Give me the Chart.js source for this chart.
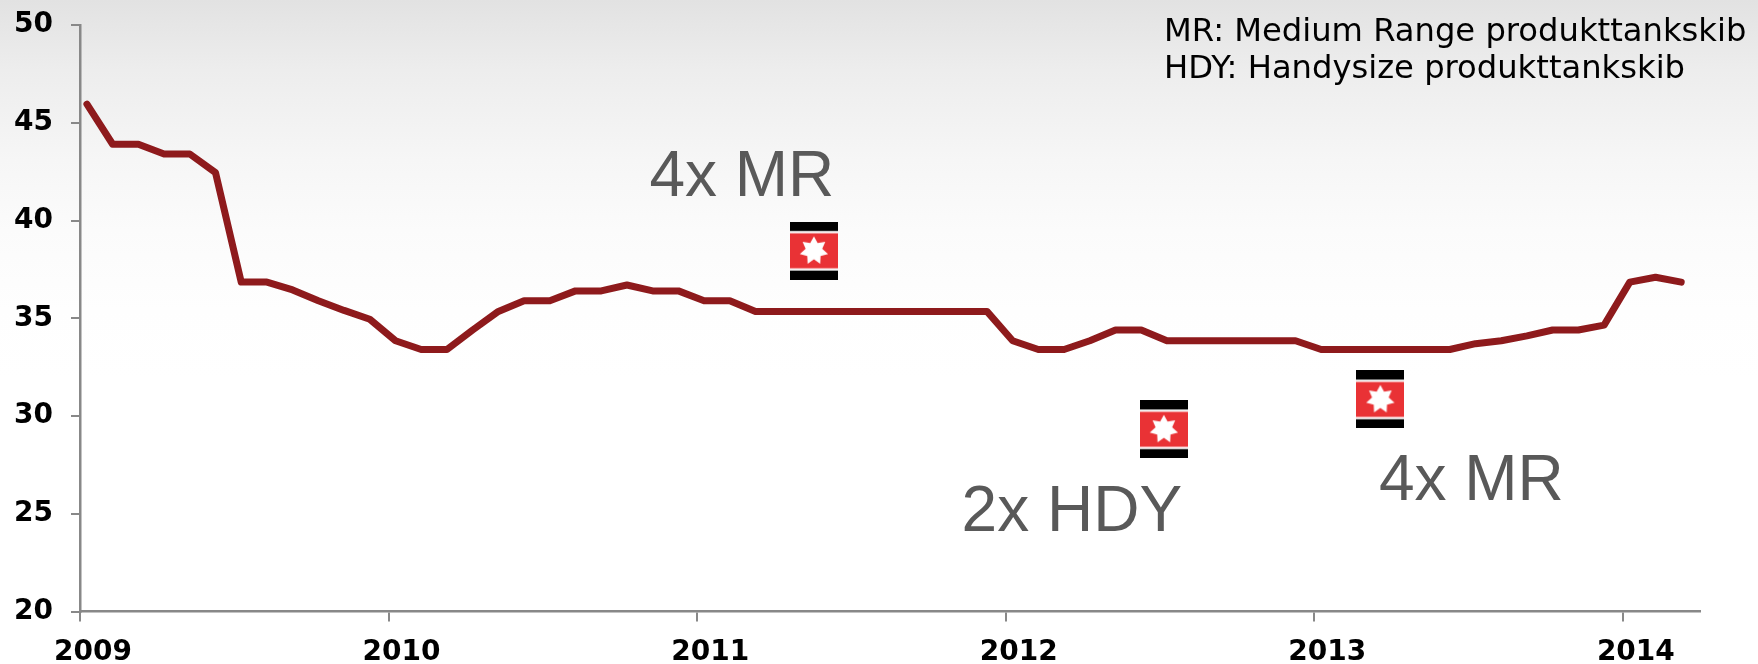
<!DOCTYPE html>
<html><head><meta charset="utf-8">
<script src="https://cdn.jsdelivr.net/npm/chart.js@4"></script>
<style>
html,body{margin:0;padding:0;width:1758px;height:664px;overflow:hidden;
background:linear-gradient(to bottom,#e2e2e2 0,#ededed 70px,#f6f6f6 160px,#fbfbfb 230px,#fefefe 310px,#ffffff 380px);}
canvas{display:block}
</style></head><body>
<canvas id="c" width="1758" height="664"></canvas>
<script>
const yearLabels = ['2009','2010','2011','2012','2013','2014'];
const monthsPerYear = 12;
const firstMonthOffset = 0.27;
const prices = [
  45.95,43.9,43.9,43.4,43.4,42.45,36.85,36.85,36.45,35.9,35.4,34.95,
  33.85,33.4,33.4,34.4,35.35,35.9,35.9,36.4,36.4,36.7,36.4,36.4,
  35.9,35.9,35.35,35.35,35.35,35.35,35.35,35.35,35.35,35.35,35.35,35.35,
  33.85,33.4,33.4,33.85,34.4,34.4,33.85,33.85,33.85,33.85,33.85,33.85,
  33.4,33.4,33.4,33.4,33.4,33.4,33.7,33.85,34.1,34.4,34.4,34.65,
  36.85,37.1,36.85
];
const markerMonths = [28.54,42.15,50.57];
const markerValues = [38.45,29.32,30.85];
const markerLabels = ['4x MR','2x HDY','4x MR'];
const noteLines = ['MR: Medium Range produkttankskib','HDY: Handysize produkttankskib'];

function makeMarker(){
  const s=document.createElement('canvas');s.width=48;s.height=58;
  const g=s.getContext('2d');
  g.fillStyle='#000';g.fillRect(0,0,48,9);g.fillRect(0,49,48,9);
  g.fillStyle='#c8c8c8';g.fillRect(0,9,48,1);g.fillRect(0,48,48,1);
  g.fillStyle='#e93235';g.fillRect(0,11.5,48,35);
  g.fillStyle='#fff';g.beginPath();
  const n=7,cx=24,cy=29,R=14.5,r=8.5;
  for(let i=0;i<n*2;i++){const a=-Math.PI/2+i*Math.PI/n,q=i%2?r:R;
    g[i?'lineTo':'moveTo'](cx+q*Math.cos(a),cy+q*Math.sin(a));}
  g.closePath();g.fill();
  return s;
}
const marker=makeMarker();

const textPlugin={id:'texts',afterDatasetsDraw(ch){
  const {ctx,scales:{x,y}}=ch;
  ctx.save();
  ctx.fillStyle='#595959';ctx.font='64px "Liberation Sans"';ctx.textAlign='center';ctx.textBaseline='middle';
  const off=[[-72,-72],[-92,84],[91,83]];
  markerLabels.forEach((t,i)=>{
    ctx.fillText(t,x.getPixelForValue(markerMonths[i])+off[i][0],y.getPixelForValue(markerValues[i])+off[i][1]);
  });
  ctx.fillStyle='#000';ctx.font='32.2px "DejaVu Sans"';ctx.textAlign='left';ctx.textBaseline='alphabetic';
  noteLines.forEach((t,i)=>ctx.fillText(t,1164,41+i*37));
  ctx.restore();
}};

new Chart(document.getElementById('c'),{
  type:'line',
  data:{datasets:[
    {data:prices.map((v,i)=>({x:i+firstMonthOffset,y:v})),borderColor:'#8e1a1c',borderWidth:7,pointRadius:0,
     borderJoinStyle:'round',borderCapStyle:'round',tension:0,order:2},
    {data:markerMonths.map((m,i)=>({x:m,y:markerValues[i]})),showLine:false,pointStyle:marker,pointRadius:24,order:1}
  ]},
  plugins:[textPlugin],
  options:{
    responsive:false,animation:false,
    layout:{padding:{top:24,right:58,left:0,bottom:0}},
    plugins:{legend:{display:false},tooltip:{enabled:false},title:{display:false}},
    scales:{
      x:{type:'linear',min:0,max:63,
        afterBuildTicks(a){a.ticks=yearLabels.map((_,i)=>({value:i*monthsPerYear}));},
        afterFit(a){a.height=664-611.5;a.paddingLeft=0;a.paddingRight=0;},
        grid:{drawOnChartArea:false,color:'#888',tickLength:10,lineWidth:2},
        border:{color:'#888',width:2.5},
        ticks:{autoSkip:false,maxRotation:0,labelOffset:13,padding:14,color:'#000',
          font:{family:'DejaVu Sans',weight:'bold',size:28},
          callback:(v)=>yearLabels[v/monthsPerYear]}},
      y:{min:20,max:50,
        afterFit(a){a.width=80;a.paddingTop=0;a.paddingBottom=0;},
        grid:{drawOnChartArea:false,color:'#888',tickLength:9,lineWidth:2},
        border:{color:'#888',width:2.5},
        ticks:{stepSize:5,padding:18,color:'#000',font:{family:'DejaVu Sans',weight:'bold',size:28}}}
    }
  }
});
</script>
</body></html>
